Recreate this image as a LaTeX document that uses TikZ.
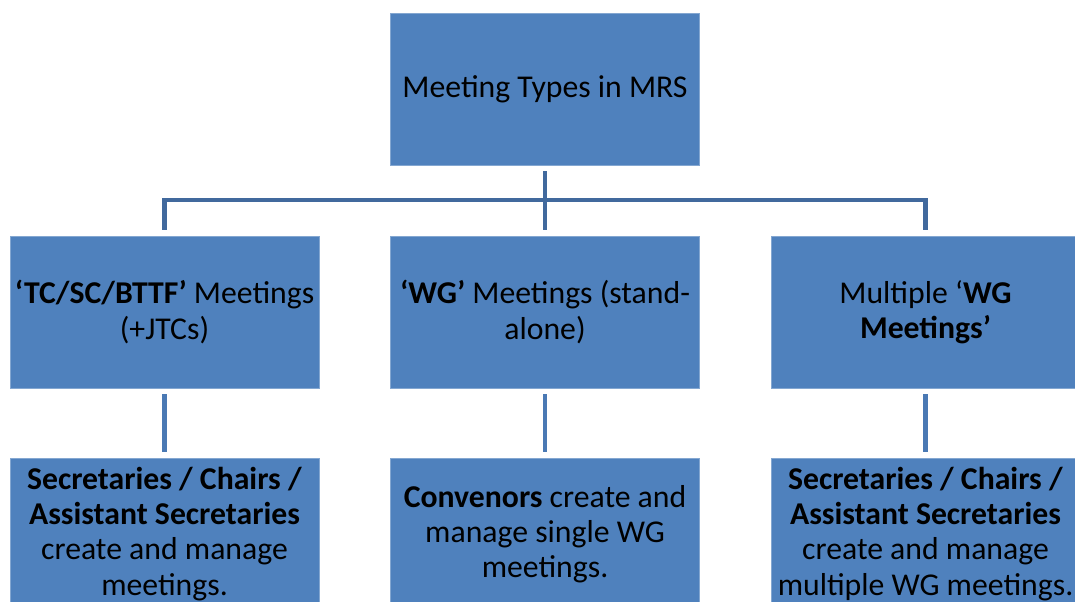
\documentclass[tikz,border=0pt]{standalone}
\usepackage{fontspec}
\setmainfont{Carlito}
\usepackage{tikz}
\usetikzlibrary{calc}

\definecolor{boxblue}{HTML}{4F81BD}
\definecolor{barblue}{HTML}{41699D}
\definecolor{stubblue}{HTML}{4A79B4}

\begin{document}
\begin{tikzpicture}[x=0.75pt,y=-0.75pt, %one unit = one pixel of the slide
	mtgbox/.style={fill=boxblue,draw=boxblue!70!white,line width=0.4pt,
		minimum width=231.5pt,minimum height=114pt,inner sep=1pt,
		align=center,font=\fontsize{23.8}{26.3}\selectfont},
	link/.style={barblue,line width=3.2pt,shorten <=4.5pt,shorten >=4.5pt},
	stub/.style={stubblue,line width=3.2pt,shorten <=4.5pt,shorten >=4.5pt}]
			\useasboundingbox (0,0) rectangle (1075,602);
			\node[mtgbox] (top) at (545,89) {Meeting Types in MRS};
			\node[mtgbox] (tcbox) at (164.5,312) {\textbf{‘TC/SC/BTTF’} Meetings\\(+JTCs)};
			\node[mtgbox] (wgbox) at (545,312) {\textbf{‘WG’} Meetings (stand-\\alone)};
			\node[mtgbox] (multibox) at (925.5,312) {Multiple ‘\textbf{WG}\\\textbf{Meetings’}};
			\node[mtgbox] (tcuser) at (164.5,534) {\textbf{Secretaries / Chairs /}\\\textbf{Assistant Secretaries}\\create and manage\\meetings.};
			\node[mtgbox] (wguser) at (545,534) {\textbf{Convenors} create and\\manage single WG\\meetings.};
			\node[mtgbox] (multiuser) at (925.5,534) {\textbf{Secretaries / Chairs /}\\\textbf{Assistant Secretaries}\\create and manage\\multiple WG meetings.};
			\coordinate (bar) at (545,200);
			\draw[link] (top) -- (wgbox);
			\draw[link] (tcbox) |- (bar) -| (multibox);
			\foreach \a/\b in {tcbox/tcuser,wgbox/wguser,multibox/multiuser}
				{\draw[stub] (\a) -- (\b);};
	\end{tikzpicture}
\end{document}
